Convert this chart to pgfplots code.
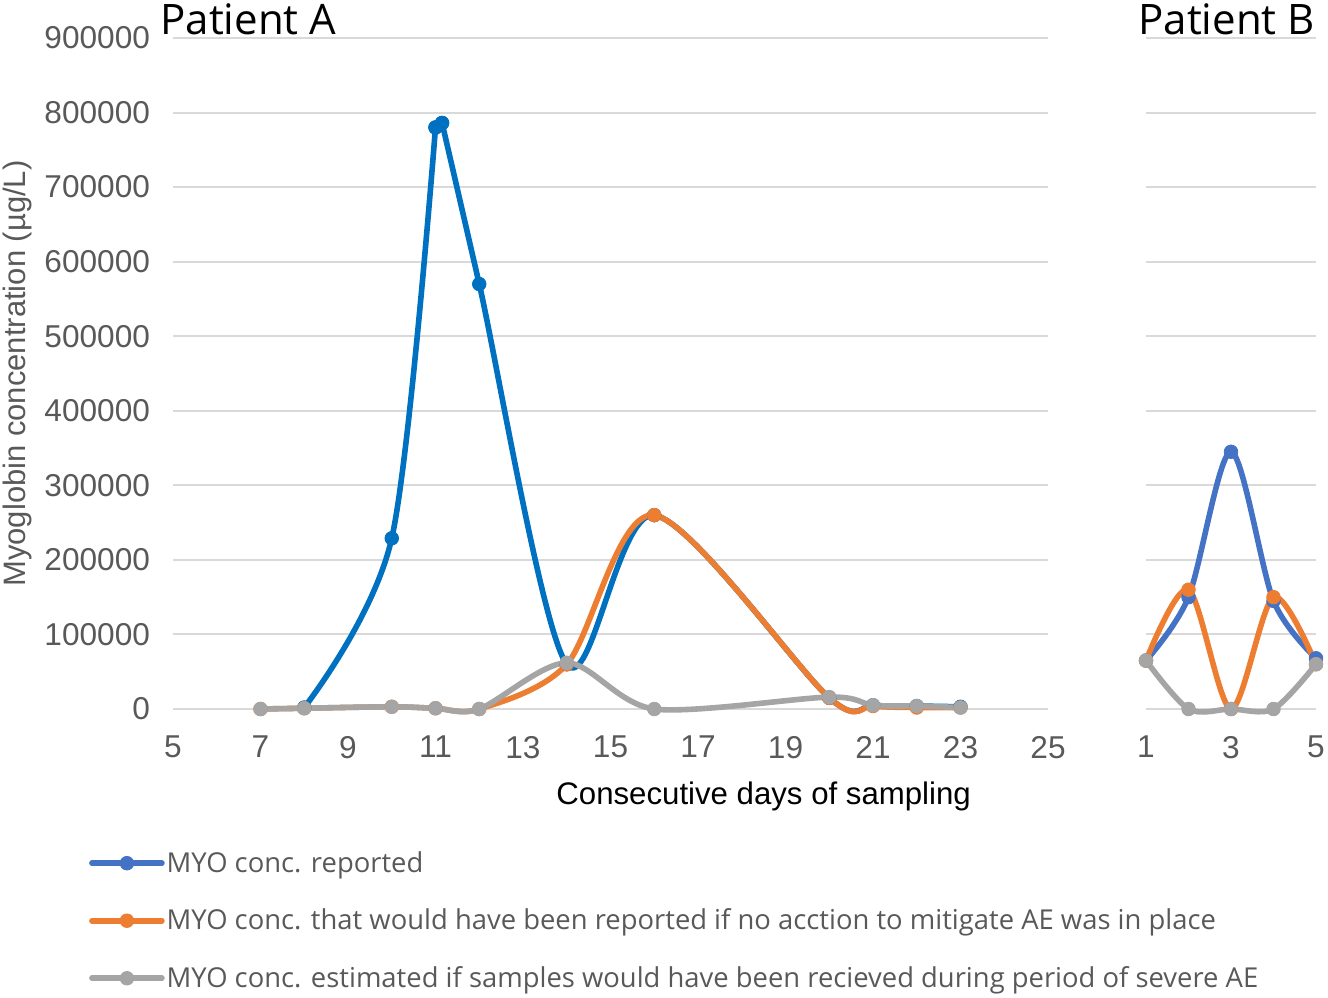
\documentclass[border=0pt]{standalone}
\usepackage{fontspec}
\setmainfont{Liberation Sans}
\newfontfamily\osans{Open Sans}
\usepackage{pgfplots}
\pgfplotsset{compat=1.18}

\definecolor{blueA}{HTML}{0070C0}
\definecolor{blueB}{HTML}{4472C4}
\definecolor{orng}{HTML}{ED7D31}
\definecolor{gry}{HTML}{A5A5A5}
\definecolor{gridgray}{HTML}{D9D9D9}
\definecolor{txtgray}{HTML}{595959}

\pgfplotsset{
  excel/.style={
    scale only axis, height=335.5pt,
    ymin=0, ymax=900000,
    ytick={0,100000,200000,300000,400000,500000,600000,700000,800000,900000},
    ymajorgrids, grid style={gridgray, line width=1pt},
    axis line style={draw=none}, major tick length=0pt,
    tick label style={font=\fontsize{15.8}{18}\selectfont, text=txtgray},
    /pgf/number format/assume math mode=true,
    /pgf/number format/fixed,
    /pgf/number format/1000 sep={},
    scaled y ticks=false,
    xticklabel style={yshift=-10pt},
    yticklabel style={xshift=-8pt},
    clip=false,
    title style={font=\osans\fontsize{21}{24}\selectfont, inner sep=0pt, anchor=base west},
  },
  ln/.style={line width=2.8pt, smooth, line cap=round, line join=round,
    mark=*, mark size=3.4pt, mark options={solid, line width=0.4pt}},
  legend image code/.code={%
    \draw[mark repeat=2, mark phase=2, #1] plot coordinates {(0pt,0pt) (17.5pt,0pt) (35pt,0pt)};},
}

\begin{document}
\begin{tikzpicture}
\useasboundingbox (0,0) rectangle (664pt,498.5pt);

% Patient A
\begin{axis}[excel,
  at={(86.5pt,144pt)}, anchor=south west, width=437.5pt,
  xmin=5, xmax=25, xtick={5,7,9,11,13,15,17,19,21,23,25},
  title={Patient A},
  title style={at={(axis description cs:-0.0149,0.988)}},
  xlabel={Consecutive days of sampling},
  xlabel style={at={(axis description cs:0.675,-0.131)}, anchor=center,
    font=\fontsize{15.6}{18}\selectfont, text=black},
  ylabel={Myoglobin concentration (µg/L)},
  ylabel style={at={(axis description cs:-0.178,0.5)}, anchor=center,
    font=\fontsize{15.5}{18}\selectfont, text=txtgray},
  legend style={at={(axis description cs:-0.0963,-0.2085)}, anchor=north west,
    draw=none, fill=none, inner sep=0pt, row sep=14.8pt,
    font=\osans\fontsize{13.7}{16}\selectfont, text=txtgray,
    nodes={inner sep=1pt}},
  legend cell align=left,
]
% reported: drawn in pieces around the double peak point
\addplot[ln, blueA, forget plot] coordinates {
  (8,2000) (10,229000) (11,780000)};
\addplot[ln, blueA, forget plot, sharp plot] coordinates {
  (11,780000) (11.15,786000)};
\addplot[ln, blueA, forget plot] coordinates {
  (11.15,786000) (12,570000)
  (14,60000) (16,260000) (20,15000) (21,5000) (22,4000) (23,3000)};
\addplot[ln, orng, forget plot] coordinates {
  (7,0) (8,1000) (10,3000) (11,1000) (12,0)
  (14,60000) (16,260000) (20,15000) (21,4000) (22,2000) (23,2000)};
\addplot[ln, gry, forget plot] coordinates {
  (7,0) (8,1000) (10,3000) (11,1000) (12,0)
  (14,62000) (16,0) (20,16000) (21,5000) (22,4000) (23,2000)};

\addlegendimage{ln, blueB}
\addlegendentry{MYO conc. reported}
\addlegendimage{ln, orng}
\addlegendentry{MYO conc. that would have been reported if no acction to mitigate AE was in place}
\addlegendimage{ln, gry}
\addlegendentry{MYO conc. estimated if samples would have been recieved during period of severe AE}
\end{axis}

% Patient B
\begin{axis}[excel,
  at={(573pt,144pt)}, anchor=south west, width=85pt,
  xmin=1, xmax=5, xtick={1,3,5},
  yticklabels={},
  title={Patient B},
  title style={at={(axis description cs:-0.047,0.988)}},
]
\addplot[ln, blueB] coordinates {
  (1,65000) (2,150000) (3,345000) (4,145000) (5,68000)};
\addplot[ln, orng] coordinates {
  (1,65000) (2,160000) (3,0) (4,150000) (5,60000)};
\addplot[ln, gry] coordinates {
  (1,65000) (2,0) (3,0) (4,0) (5,60000)};
\end{axis}
\end{tikzpicture}
\end{document}
